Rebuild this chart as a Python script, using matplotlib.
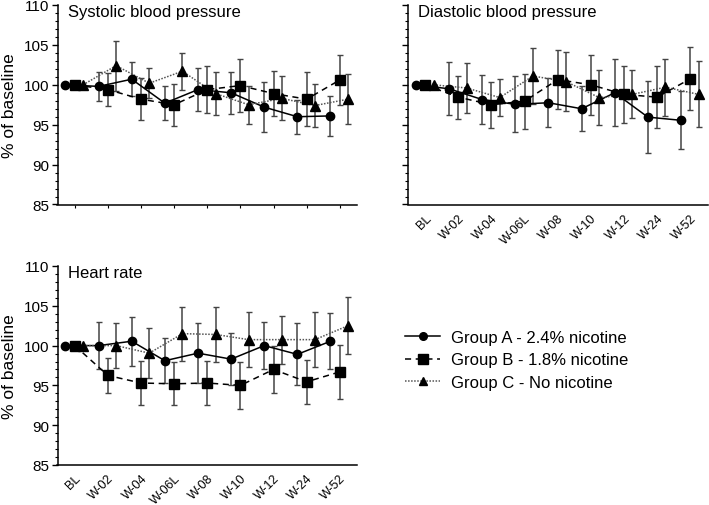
import numpy as np
import matplotlib
matplotlib.use("Agg")
import matplotlib.pyplot as plt
from matplotlib.lines import Line2D
from matplotlib.ticker import MultipleLocator

plt.rcParams['font.family'] = ['Liberation Sans', 'DejaVu Sans']

visits = ["BL", "W-02", "W-04", "W-06L", "W-08", "W-10", "W-12", "W-24", "W-52"]
groups = ["Group A - 2.4% nicotine", "Group B - 1.8% nicotine", "Group C - No nicotine"]

# systolic blood pressure, % of baseline (mean, error)
sys_a = [100, 99.8, 100.7, 97.7, 99.4, 99.0, 97.2, 96.0, 96.1]
sys_a_err = [0, 1.8, 2.15, 2.15, 2.7, 2.65, 3.1, 2.15, 2.5]
sys_b = [100, 99.4, 98.2, 97.5, 99.4, 99.9, 98.9, 98.2, 100.6]
sys_b_err = [0, 2.05, 2.65, 2.65, 2.95, 3.3, 2.85, 3.35, 3.1]
sys_c = [100, 102.4, 100.2, 101.7, 98.9, 97.5, 98.3, 97.4, 98.2]
sys_c_err = [0, 3.15, 1.85, 2.3, 2.7, 2.4, 2.75, 2.65, 3.15]

# diastolic blood pressure
dia_a = [100, 99.5, 98.15, 97.55, 97.75, 97.0, 99.0, 95.95, 95.55]
dia_a_err = [0, 3.3, 3.1, 3.5, 3.05, 2.85, 4.2, 4.5, 3.65]
dia_b = [100, 98.45, 97.5, 97.95, 100.65, 100.0, 98.8, 98.45, 100.75]
dia_b_err = [0, 2.7, 2.9, 3.45, 3.65, 3.75, 3.55, 3.85, 3.95]
dia_c = [100, 99.6, 98.4, 101.1, 100.4, 98.4, 98.8, 99.7, 98.8]
dia_c_err = [0, 3.15, 2.35, 3.5, 3.65, 3.45, 3.0, 3.55, 4.15]

# heart rate
hr_a = [100, 100.0, 100.55, 98.1, 99.05, 98.3, 100.0, 98.9, 100.55]
hr_a_err = [0, 2.95, 3.1, 2.85, 3.75, 3.25, 2.95, 3.9, 3.55]
hr_b = [100, 96.25, 95.3, 95.2, 95.3, 95.0, 97.0, 95.45, 96.7]
hr_b_err = [0, 2.25, 2.8, 2.7, 2.8, 3.0, 2.9, 2.75, 3.35]
hr_c = [100, 100.0, 99.05, 101.5, 101.4, 100.75, 100.75, 100.75, 102.5]
hr_c_err = [0, 2.85, 3.1, 3.4, 3.4, 3.5, 3.0, 3.5, 3.55]

styles = [
    dict(marker="o", ls="-", ms=6, color="black", lw=1.1, off=-0.28),
    dict(marker="s", ls=(0, (4, 3)), ms=7.5, color="black", lw=1.1, off=0.0),
    dict(marker="^", ls=(0, (1, 1)), ms=6.5, color="#555555", lw=1.1, off=0.25),
]

fig = plt.figure(figsize=(7.09, 5.06), dpi=100)
W, H = 709, 506


def make_ax(left, top, right, bottom):
    return fig.add_axes([left / W, 1 - bottom / H, (right - left) / W, (bottom - top) / H])


ax_sys = make_ax(57.5, 6, 357, 205.5)
ax_dia = make_ax(408, 6, 707.5, 205.5)
ax_hr = make_ax(57.5, 267, 357, 466)

panels = [
    (ax_sys, "Systolic blood pressure", [(sys_a, sys_a_err), (sys_b, sys_b_err), (sys_c, sys_c_err)]),
    (ax_dia, "Diastolic blood pressure", [(dia_a, dia_a_err), (dia_b, dia_b_err), (dia_c, dia_c_err)]),
    (ax_hr, "Heart rate", [(hr_a, hr_a_err), (hr_b, hr_b_err), (hr_c, hr_c_err)]),
]

x = np.arange(len(visits))
for ax, title, series in panels:
    for (vals, err), st in zip(series, styles):
        xs = x + st["off"]
        ax.errorbar(xs[1:], vals[1:], yerr=err[1:], fmt="none", ecolor="#444444",
                    elinewidth=1.1, capsize=2, capthick=1.0, zorder=2)
        ax.plot(xs, vals, color=st["color"], ls=st["ls"], lw=st["lw"], zorder=3)
        ax.plot(xs, vals, ls="none", marker=st["marker"], ms=st["ms"],
                color="black", mec="black", zorder=4)
    ax.set_ylim(85, 110)
    ax.set_xlim(-0.52, 8.52)
    ax.yaxis.set_major_locator(MultipleLocator(5))
    ax.yaxis.set_minor_locator(MultipleLocator(1))
    ax.tick_params(axis="y", which="major", length=4, width=1, labelsize=11, pad=2)
    ax.tick_params(axis="y", which="minor", length=2, width=0.8)
    ax.set_xticks(x)
    for s in ["top", "right"]:
        ax.spines[s].set_visible(False)
    for s in ["left", "bottom"]:
        ax.spines[s].set_linewidth(1.1)
    ax.text(0.035, 0.965, title, transform=ax.transAxes, fontsize=12,
            ha="left", va="center")

ax_sys.tick_params(axis="x", length=2, labelbottom=False)
for ax in (ax_dia, ax_hr):
    ax.set_xticklabels(visits, rotation=45, ha="right", rotation_mode="anchor", fontsize=9)
    ax.tick_params(axis="x", length=0, pad=5)
ax_dia.tick_params(axis="y", labelleft=False)

for ax in (ax_sys, ax_hr):
    ax.set_ylabel("% of baseline", fontsize=12.5)
    ax.yaxis.set_label_coords(-0.135, 0.5)

handles = [Line2D([], [], color=st["color"], ls=st["ls"], lw=1.1,
                  marker=st["marker"], ms=st["ms"] - 0.5, mfc="black", mec="black")
           for st in styles]
fig.legend(handles, groups, loc="upper left", bbox_to_anchor=(405 / W, 1 - 331 / H),
           frameon=False, fontsize=12, handlelength=2.1, handletextpad=0.65,
           labelspacing=0.45, borderpad=0, borderaxespad=0)

fig.savefig("out.png", dpi=100)
